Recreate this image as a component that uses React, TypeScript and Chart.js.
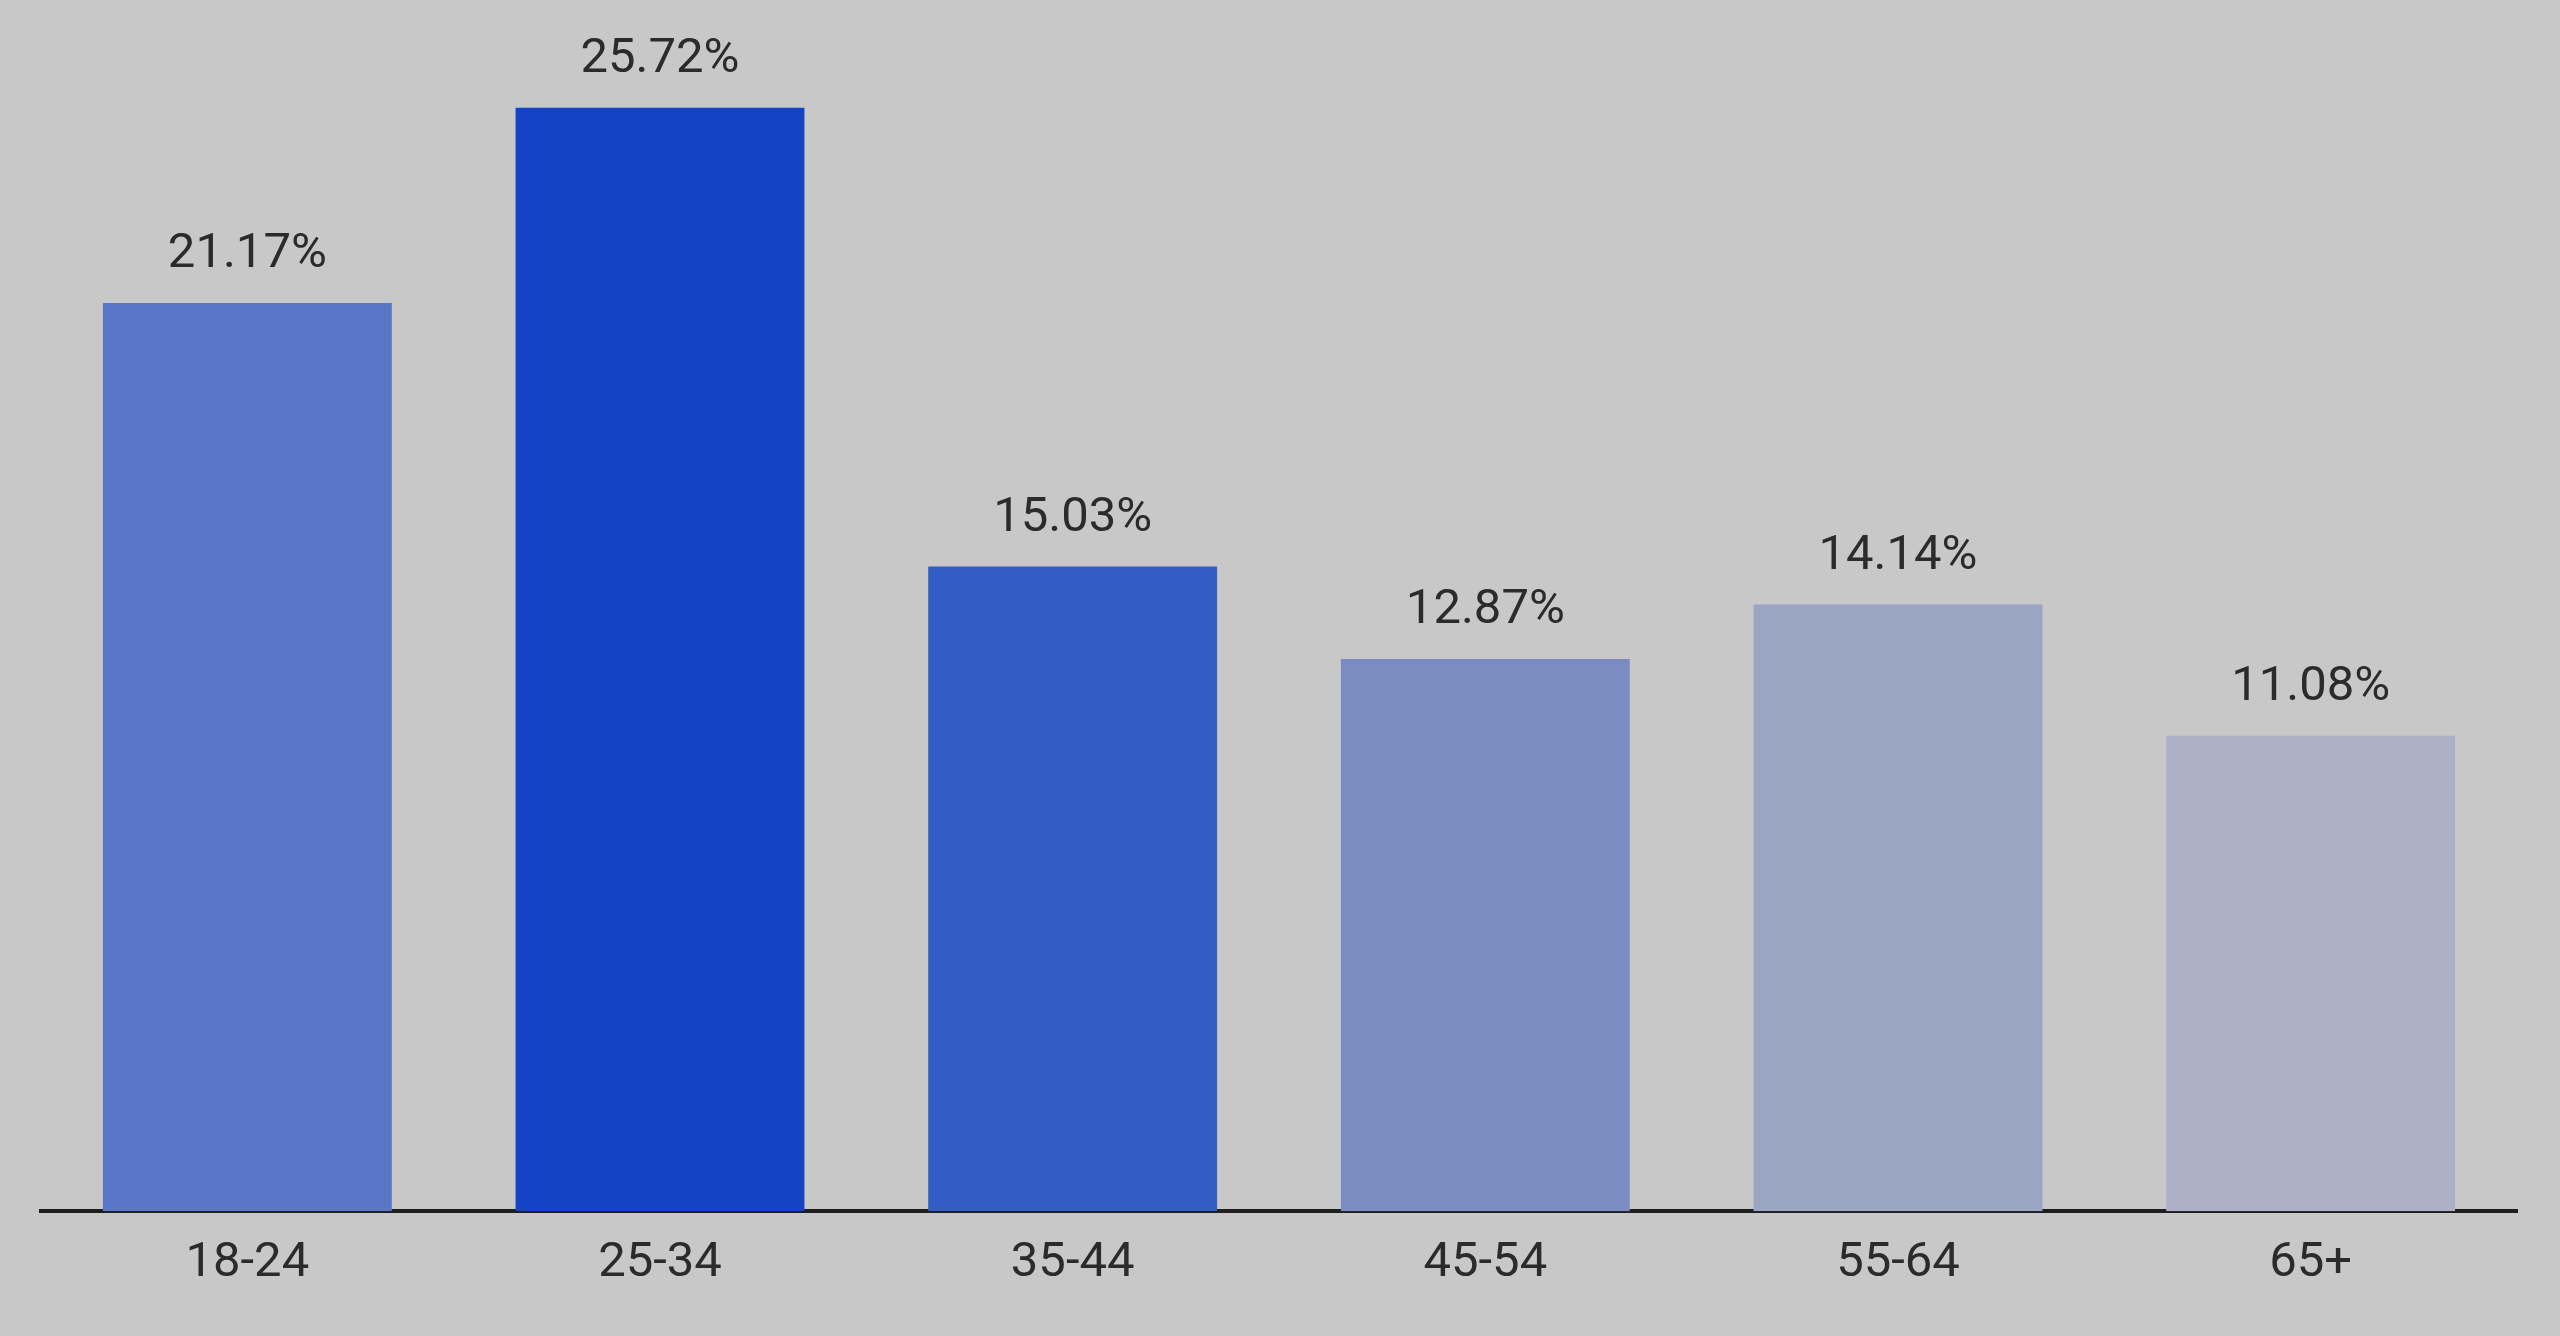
import React, { useEffect, useRef } from "react";
import { Chart, registerables } from "chart.js";

Chart.register(...registerables);

const categories = ["18-24", "25-34", "35-44", "45-54", "55-64", "65+"];
const values = [21.17, 25.72, 15.03, 12.87, 14.14, 11.08];
const valueLabels = ["21.17%", "25.72%", "15.03%", "12.87%", "14.14%", "11.08%"];
const barColors = ["#5a76c6", "#1543c6", "#335cc4", "#7a8cc2", "#9aa4c3", "#adb0c6"];

const FONT = "Roboto, 'Noto Sans', sans-serif";

const valueLabelPlugin = {
  id: "valueLabels",
  afterDatasetsDraw(chart: any) {
    const ctx = chart.ctx;
    const meta = chart.getDatasetMeta(0);
    ctx.save();
    ctx.font = `49px ${FONT}`;
    ctx.fillStyle = "#2b2b2b";
    ctx.textAlign = "center";
    ctx.textBaseline = "middle";
    meta.data.forEach((bar: any, i: number) => {
      ctx.fillText(valueLabels[i], bar.x, bar.y - 48);
    });
    ctx.restore();
  },
};

export default function App() {
  const ref = useRef<HTMLCanvasElement | null>(null);
  useEffect(() => {
    if (!ref.current) return;
    const chart = new Chart(ref.current, {
      type: "bar",
      data: {
        labels: categories,
        datasets: [
          {
            data: values,
            backgroundColor: barColors,
            borderWidth: 0,
            barPercentage: 0.7,
            categoryPercentage: 1,
          },
        ],
      },
      options: {
        animation: false,
        responsive: false,
        maintainAspectRatio: false,
        devicePixelRatio: 1,
        layout: { padding: { left: 41, right: 43, top: 10, bottom: 20 } },
        plugins: { legend: { display: false }, tooltip: { enabled: false } },
        scales: {
          x: {
            grid: { display: false, drawTicks: false },
            border: { display: true, color: "#1e1e1e", width: 4 },
            ticks: {
              color: "#2b2b2b",
              font: { family: FONT, size: 49 },
              padding: 23,
            },
          },
          y: {
            display: false,
            min: 0,
            max: 28,
          },
        },
      },
      plugins: [valueLabelPlugin],
    });
    return () => chart.destroy();
  }, []);
  return (
    <div
      style={{
        position: "fixed",
        left: 0,
        top: 0,
        width: 2560,
        height: 1336,
        background: "#c8c8c8",
      }}
    >
      <canvas ref={ref} width={2560} height={1336} style={{ display: "block", width: 2560, height: 1336 }} />
    </div>
  );
}
